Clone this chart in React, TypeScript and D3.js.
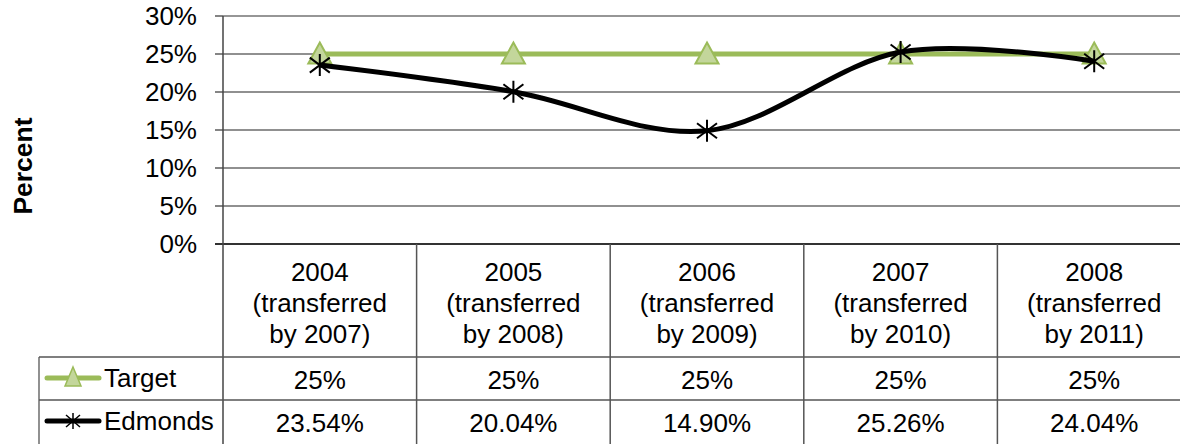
import React from "react";
import * as d3 from "d3";

const categories = ["2004", "2005", "2006", "2007", "2008"];
const catSub = ["(transferred", "(transferred", "(transferred", "(transferred", "(transferred"];
const catBy = ["by 2007)", "by 2008)", "by 2009)", "by 2010)", "by 2011)"];
const targetValues = [25, 25, 25, 25, 25];
const edmondsValues = [23.54, 20.04, 14.9, 25.26, 24.04];
const targetLabels = ["25%", "25%", "25%", "25%", "25%"];
const edmondsLabels = ["23.54%", "20.04%", "14.90%", "25.26%", "24.04%"];
const yTicks = [0, 5, 10, 15, 20, 25, 30];

const W = 1180;
const H = 444;
const plotLeft = 223;
const plotRight = 1191;
const plotTop = 16;
const plotBottom = 244;
const row1 = 357;
const row2 = 400;
const legendLeft = 39;
const FONT = "'Liberation Sans', Arial, sans-serif";
const FS = 26;
const GREEN = "#9BBB59";
const GREEN_FILL = "#C3D69B";

export default function App() {
  const x = d3.scaleBand<string>().domain(categories).range([plotLeft, plotRight]);
  const y = d3.scaleLinear().domain([0, 30]).range([plotBottom, plotTop]);
  const cx = (c: string) => (x(c) as number) + x.bandwidth() / 2;

  const line = d3
    .line<number>()
    .x((_, i) => cx(categories[i]))
    .y((d) => y(d))
    .curve(d3.curveCardinal.tension(0));

  const tri = (px: number, py: number) => {
    const s = 10.5;
    return `M${px},${py - s - 1} L${px + s + 1},${py + s - 1} L${px - s - 1},${py + s - 1} Z`;
  };
  const star = (px: number, py: number) => {
    const r = 11;
    const d = 10;
    return `M${px},${py - r} L${px},${py + r} M${px - d},${py - d * 0.75} L${px + d},${py + d * 0.75} M${px - d},${py + d * 0.75} L${px + d},${py - d * 0.75}`;
  };

  const bounds = categories.map((c) => x(c) as number);

  return (
    <svg
      width={W}
      height={H}
      style={{ position: "absolute", left: 0, top: 0, background: "#fff" }}
      fontFamily={FONT}
    >
      <rect x={0} y={0} width={W} height={H} fill="#fff" />
      {/* gridlines */}
      {yTicks.map((t) => (
        <line
          key={"g" + t}
          x1={t === 0 ? 215 : plotLeft}
          x2={W}
          y1={y(t)}
          y2={y(t)}
          stroke={t === 30 ? "#969696" : t === 0 ? "#333" : "#222"}
          strokeWidth={t === 30 ? 2 : t === 0 ? 1.8 : 1.2}
        />
      ))}
      {/* tick marks */}
      {yTicks.map((t) => (
        <line key={"tm" + t} x1={215} x2={plotLeft} y1={y(t)} y2={y(t)} stroke="#333" strokeWidth={1.2} />
      ))}
      {/* tick labels */}
      {yTicks.map((t) => (
        <text
          key={"tl" + t}
          x={197}
          y={y(t)}
          dy="0.36em"
          textAnchor="end"
          fontSize={FS}
          fill="#000"
        >
          {t + "%"}
        </text>
      ))}
      {/* y axis title */}
      <text
        transform={`translate(32,${166}) rotate(-90)`}
        textAnchor="middle"
        fontSize={26.5}
        fontWeight="bold"
        fill="#000"
      >
        Percent
      </text>
      {/* axis line */}
      <line x1={plotLeft} x2={plotLeft} y1={plotTop} y2={H} stroke="#444" strokeWidth={1.5} />
      {/* table lines */}
      <line x1={legendLeft} x2={W} y1={row1} y2={row1} stroke="#555" strokeWidth={1.3} />
      <line x1={legendLeft} x2={W} y1={row2} y2={row2} stroke="#555" strokeWidth={1.3} />
      <line x1={legendLeft} x2={legendLeft} y1={row1} y2={H} stroke="#555" strokeWidth={1.3} />
      {bounds.slice(1).map((b, i) => (
        <line key={"vb" + i} x1={b} x2={b} y1={plotBottom} y2={H} stroke="#555" strokeWidth={1.5} />
      ))}
      {/* category labels */}
      {categories.map((c, i) => (
        <text key={"c" + c} x={cx(c)} textAnchor="middle" fontSize={FS} fill="#000">
          <tspan x={cx(c)} y={281}>{c}</tspan>
          <tspan x={cx(c)} y={312}>{catSub[i]}</tspan>
          <tspan x={cx(c)} y={343}>{catBy[i]}</tspan>
        </text>
      ))}
      {/* table values */}
      {categories.map((c, i) => (
        <text key={"tv" + c} x={cx(c)} y={(row1 + row2) / 2 + 1} dy="0.36em" textAnchor="middle" fontSize={FS} fill="#000">
          {targetLabels[i]}
        </text>
      ))}
      {categories.map((c, i) => (
        <text key={"ev" + c} x={cx(c)} y={(row2 + H) / 2 + 1} dy="0.36em" textAnchor="middle" fontSize={FS} fill="#000">
          {edmondsLabels[i]}
        </text>
      ))}
      {/* legend keys */}
      <line x1={47} x2={99} y1={378} y2={378} stroke={GREEN} strokeWidth={5} strokeLinecap="round" />
      <path d={`M73,367 L81,386 L65,386 Z`} fill={GREEN_FILL} stroke={GREEN} strokeWidth={1.5} />
      <text x={104} y={378} dy="0.36em" fontSize={FS} fill="#000">Target</text>
      <line x1={47} x2={99} y1={421} y2={421} stroke="#000" strokeWidth={5} strokeLinecap="round" />
      <path d={`M73,413 L73,429 M66,415 L80,427 M66,427 L80,415`} stroke="#000" strokeWidth={1.5} fill="none" />
      <text x={104} y={421} dy="0.36em" fontSize={FS} fill="#000">Edmonds</text>
      {/* target series */}
      <path d={line(targetValues) || ""} fill="none" stroke={GREEN} strokeWidth={5} />
      {targetValues.map((v, i) => (
        <path key={"tt" + i} d={tri(cx(categories[i]), y(v))} fill={GREEN_FILL} stroke={GREEN} strokeWidth={2} />
      ))}
      {/* edmonds series */}
      <path d={line(edmondsValues) || ""} fill="none" stroke="#000" strokeWidth={5} />
      {edmondsValues.map((v, i) => (
        <path key={"es" + i} d={star(cx(categories[i]), y(v))} fill="none" stroke="#000" strokeWidth={2} />
      ))}
    </svg>
  );
}
